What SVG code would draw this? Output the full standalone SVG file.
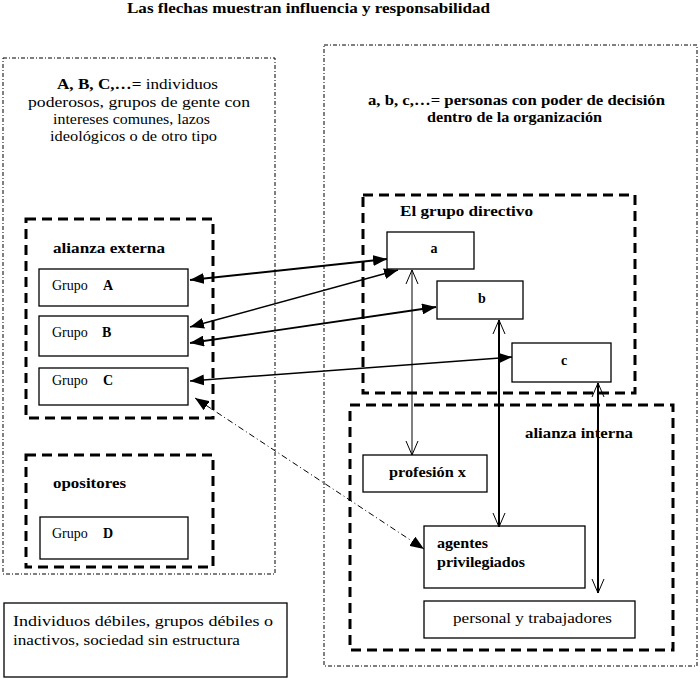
<svg xmlns="http://www.w3.org/2000/svg" width="700" height="682" viewBox="0 0 700 682">
<style>
text{font-family:"Liberation Serif","DejaVu Serif","Times New Roman",serif;font-size:14px;fill:#000}
.b{font-weight:bold}
.outer{fill:none;stroke:#000;stroke-width:1;stroke-dasharray:4 2 1 2}
.grp{fill:none;stroke:#000;stroke-width:3;stroke-dasharray:10 6}
.box{fill:#fff;stroke:#000;stroke-width:1.3}
.arr{fill:none;stroke:#000;marker-start:url(#fa);marker-end:url(#fa)}
.varr{fill:none;stroke:#000;marker-start:url(#va);marker-end:url(#va)}
</style>
<defs>
<marker id="fa" markerUnits="userSpaceOnUse" markerWidth="15" markerHeight="11" refX="14" refY="5.5" orient="auto-start-reverse" viewBox="0 0 15 11">
<path d="M0,0 L14,5.5 L0,11 z" fill="#000"/>
</marker>
<marker id="va" markerUnits="userSpaceOnUse" markerWidth="15" markerHeight="14" refX="14" refY="7" orient="auto-start-reverse" viewBox="0 0 15 14">
<path d="M0,1 L14,7 L0,13" fill="none" stroke="#000" stroke-width="1"/>
</marker>
</defs>
<rect width="700" height="682" fill="#fff"/>

<text id="title" class="b" x="127" y="13" font-size="15" textLength="363" lengthAdjust="spacingAndGlyphs">Las flechas muestran influencia y responsabilidad</text>

<g id="entorno-externo">
<rect class="outer" x="3" y="58" width="272" height="516"/>
<text x="57" y="89" font-size="15" textLength="161" lengthAdjust="spacingAndGlyphs"><tspan class="b">A, B, C,…=</tspan> individuos</text>
<text x="28" y="107" font-size="15" textLength="222" lengthAdjust="spacingAndGlyphs">poderosos, grupos de gente con</text>
<text x="53" y="124" font-size="15" textLength="157" lengthAdjust="spacingAndGlyphs">intereses comunes, lazos</text>
<text x="50" y="141" font-size="15" textLength="167" lengthAdjust="spacingAndGlyphs">ideológicos o de otro tipo</text>
</g>

<g id="organizacion">
<rect class="outer" x="324" y="45" width="373" height="621"/>
<text class="b" x="368" y="105" font-size="15" textLength="297" lengthAdjust="spacingAndGlyphs">a, b, c,…= personas con poder de decisión</text>
<text class="b" x="427" y="122" font-size="15" textLength="175" lengthAdjust="spacingAndGlyphs">dentro de la organización</text>
</g>

<g id="alianza-externa">
<rect class="grp" x="26" y="219" width="187" height="199"/>
<text class="b" x="53" y="253" textLength="112" lengthAdjust="spacingAndGlyphs">alianza externa</text>
</g>
<g id="grupo-a">
<rect class="box" x="39" y="269" width="149" height="37"/>
<text x="52" y="290">Grupo</text><text class="b" x="103" y="290">A</text>
</g>
<g id="grupo-b">
<rect class="box" x="39" y="316" width="149" height="40"/>
<text x="52" y="337">Grupo</text><text class="b" x="102" y="337">B</text>
</g>
<g id="grupo-c">
<rect class="box" x="39" y="368" width="149" height="37"/>
<text x="52" y="385">Grupo</text><text class="b" x="103" y="385">C</text>
</g>

<g id="opositores">
<rect class="grp" x="26" y="455" width="187" height="112"/>
<text class="b" x="53" y="488" textLength="73" lengthAdjust="spacingAndGlyphs">opositores</text>
</g>
<g id="grupo-d">
<rect class="box" x="40" y="517" width="148" height="42"/>
<text x="52" y="538">Grupo</text><text class="b" x="103" y="538">D</text>
</g>

<g id="debiles">
<rect class="box" x="4" y="603" width="283" height="74"/>
<text x="13" y="626" font-size="15" textLength="260" lengthAdjust="spacingAndGlyphs">Individuos débiles, grupos débiles o</text>
<text x="13" y="645" font-size="15" textLength="227" lengthAdjust="spacingAndGlyphs">inactivos, sociedad sin estructura</text>
</g>

<g id="grupo-directivo">
<rect class="grp" x="363" y="195" width="272" height="198"/>
<text class="b" x="400" y="216" textLength="133" lengthAdjust="spacingAndGlyphs">El grupo directivo</text>
</g>
<g id="node-a">
<rect class="box" x="387" y="232" width="87" height="37"/>
<text class="b" x="434" y="253" text-anchor="middle">a</text>
</g>
<g id="node-b">
<rect class="box" x="437" y="281" width="86" height="38"/>
<text class="b" x="482" y="303" text-anchor="middle">b</text>
</g>
<g id="node-c">
<rect class="box" x="512" y="343" width="99" height="39"/>
<text class="b" x="564" y="365" text-anchor="middle">c</text>
</g>

<g id="alianza-interna">
<rect class="grp" x="350" y="405" width="323" height="245"/>
<text class="b" x="525" y="438" textLength="108" lengthAdjust="spacingAndGlyphs">alianza interna</text>
</g>
<g id="profesion-x">
<rect class="box" x="363" y="455" width="124" height="37"/>
<text class="b" x="389" y="477" textLength="77" lengthAdjust="spacingAndGlyphs">profesión x</text>
</g>
<g id="agentes">
<rect class="box" x="424" y="526" width="161" height="62"/>
<text class="b" x="437" y="548" textLength="51" lengthAdjust="spacingAndGlyphs">agentes</text>
<text class="b" x="437" y="567" textLength="88" lengthAdjust="spacingAndGlyphs">privilegiados</text>
</g>
<g id="personal">
<rect class="box" x="424" y="601" width="211" height="37"/>
<text x="453" y="623" textLength="159" lengthAdjust="spacingAndGlyphs">personal y trabajadores</text>
</g>

<g id="connectors">
<line class="arr" x1="190" y1="280" x2="387" y2="259" stroke-width="2"/>
<line class="arr" x1="190" y1="327" x2="398" y2="270" stroke-width="1.5"/>
<line class="arr" x1="190" y1="343" x2="436" y2="307" stroke-width="1.8"/>
<line class="arr" x1="190" y1="381" x2="512" y2="357" stroke-width="1.5"/>
<line class="arr" x1="195" y1="398" x2="424" y2="549" stroke-width="1" stroke-dasharray="6 3 1 3"/>
<line class="varr" x1="412" y1="270" x2="412" y2="455" stroke-width="1"/>
<line class="varr" x1="499" y1="320" x2="499" y2="527" stroke-width="2"/>
<line class="varr" x1="598" y1="383" x2="598" y2="593" stroke-width="2"/>
</g>
</svg>
